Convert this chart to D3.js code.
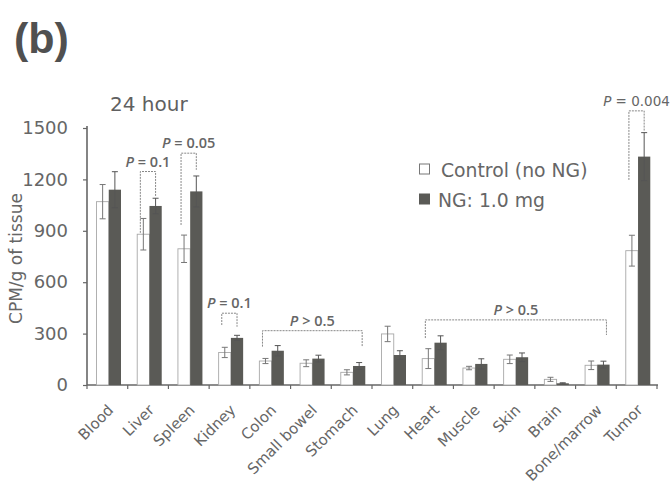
<!DOCTYPE html>
<html>
<head>
<meta charset="utf-8">
<script src="https://cdn.jsdelivr.net/npm/d3@7"></script>
<style>
  body { margin: 0; background: #fff; }
  svg text { font-family: "DejaVu Sans", Verdana, sans-serif; }
</style>
</head>
<body>
<div id="chart"></div>
<script>
// tissue biodistribution, 24 hour

const width = 672, height = 487;

const categories = ["Blood", "Liver", "Spleen", "Kidney", "Colon", "Small bowel", "Stomach",
  "Lung", "Heart", "Muscle", "Skin", "Brain", "Bone/marrow", "Tumor"];
const controlValues = [1070, 880, 795, 190, 140, 127, 74, 298, 154, 99, 150, 33, 115, 784];
const controlErrors = [100, 92, 80, 30, 15, 20, 15, 45, 58, 10, 25, 12, 25, 90];
const ngValues = [1140, 1045, 1130, 275, 200, 154, 111, 175, 247, 123, 162, 10, 119, 1333];
const ngErrors = [105, 45, 90, 15, 30, 20, 20, 25, 40, 30, 25, 3, 20, 140];
const yTicks = [0, 300, 600, 900, 1200, 1500];
const seriesNames = ["Control (no NG)", "NG: 1.0 mg"];

// significance brackets (levels in CPM/g)
const brackets = [
  { from: "Liver", to: "Liver", text: " = 0.1", top: 1246, leftEnd: 888, rightEnd: 1098 },
  { from: "Spleen", to: "Spleen", text: " = 0.05", top: 1353, leftEnd: 934, rightEnd: 1256 },
  { from: "Kidney", to: "Kidney", text: " = 0.1", top: 419, leftEnd: 350, rightEnd: 340 },
  { from: "Colon", to: "Stomach", text: " > 0.5", top: 317, leftEnd: 224, rightEnd: 224 },
  { from: "Heart", to: "Bone/marrow", text: " > 0.5", top: 380, leftEnd: 274, rightEnd: 292 },
  { from: "Tumor", to: "Tumor", text: " = 0.004", top: 1600, leftEnd: 1197, rightEnd: 1479, plain: true }
];

const data = categories.map((c, i) => ({
  cat: c,
  control: controlValues[i], controlErr: controlErrors[i],
  ng: ngValues[i], ngErr: ngErrors[i]
}));

const svg = d3.select("#chart").append("svg")
  .attr("width", width)
  .attr("height", height);

const x = d3.scaleBand().domain(categories).range([87, 657]);
const x1 = d3.scaleBand().domain(["control", "ng"]).range([9.5, 34]);
const y = d3.scaleLinear().domain([0, 1500]).range([385, 128]);

const textColor = "#666";
const darkFill = "#5a5a56";

// panel label + time
svg.append("text")
  .attr("x", 14).attr("y", 53)
  .style("font-family", "'Liberation Sans', Arial, sans-serif")
  .attr("font-size", 43).attr("font-weight", "bold")
  .attr("fill", "#505050")
  .text("(b)");

svg.append("text")
  .attr("x", 110).attr("y", 111)
  .attr("font-size", 20)
  .attr("fill", "#606060")
  .text("24 hour");

// y axis
const yAxis = svg.append("g")
  .attr("transform", "translate(87,0)")
  .call(d3.axisLeft(y).tickValues(yTicks).tickFormat(d3.format("d"))
    .tickSize(4).tickSizeOuter(0).tickPadding(15));
yAxis.select(".domain").attr("stroke", "#666").attr("stroke-width", 1.6)
  .attr("d", `M0,${y(1500) - 2}V${y(0)}`);
yAxis.selectAll(".tick line").attr("stroke", "#666").attr("stroke-width", 1.2);
yAxis.selectAll(".tick text")
  .attr("font-size", 18)
  .style("font-family", "'DejaVu Sans', sans-serif")
  .attr("fill", textColor);

svg.append("text")
  .attr("transform", `translate(22,${(y(0) + y(1500)) / 2 + 2}) rotate(-90)`)
  .attr("text-anchor", "middle")
  .attr("font-size", 17)
  .attr("fill", textColor)
  .text("CPM/g of tissue");

// x axis
svg.append("line")
  .attr("x1", x.range()[0]).attr("x2", x.range()[1] + 1)
  .attr("y1", y(0)).attr("y2", y(0))
  .attr("stroke", "#666").attr("stroke-width", 1.6);

const boundaries = categories.map(c => x(c)).concat([x.range()[1]]);
svg.selectAll(".xtick")
  .data(boundaries)
  .enter().append("line")
  .attr("class", "xtick")
  .attr("x1", d => d).attr("x2", d => d)
  .attr("y1", y(0)).attr("y2", y(0) + 4)
  .attr("stroke", "#666").attr("stroke-width", 1.2);

svg.selectAll(".xlabel")
  .data(categories)
  .enter().append("text")
  .attr("class", "xlabel")
  .attr("transform", d => `translate(${x(d) + x.bandwidth() / 2 + 7},${y(0) + 26}) rotate(-45)`)
  .attr("text-anchor", "end")
  .attr("font-size", 15)
  .attr("fill", textColor)
  .text(d => d);

// bars
const groups = svg.selectAll(".grp")
  .data(data)
  .enter().append("g")
  .attr("class", "grp")
  .attr("transform", d => `translate(${x(d.cat)},0)`);

groups.append("rect")
  .attr("x", x1("control"))
  .attr("y", d => y(d.control))
  .attr("width", x1.bandwidth())
  .attr("height", d => y(0) - y(d.control))
  .attr("fill", "#fff")
  .attr("stroke", "#a8a8a8")
  .attr("stroke-width", 0.9);

groups.append("rect")
  .attr("x", x1("ng"))
  .attr("y", d => y(d.ng))
  .attr("width", x1.bandwidth())
  .attr("height", d => y(0) - y(d.ng))
  .attr("fill", darkFill);

// error bars
function errorBar(key, errKey, color) {
  const cx = x1(key) + x1.bandwidth() / 2;
  const eb = groups.append("g").attr("stroke", color).attr("stroke-width", 1);
  eb.append("line")
    .attr("x1", cx).attr("x2", cx)
    .attr("y1", d => y(d[key] + d[errKey]))
    .attr("y2", d => y(Math.max(0, d[key] - d[errKey])));
  eb.append("line")
    .attr("x1", cx - 3).attr("x2", cx + 3)
    .attr("y1", d => y(d[key] + d[errKey]))
    .attr("y2", d => y(d[key] + d[errKey]));
  eb.append("line")
    .attr("x1", cx - 3).attr("x2", cx + 3)
    .attr("y1", d => y(Math.max(0, d[key] - d[errKey])))
    .attr("y2", d => y(Math.max(0, d[key] - d[errKey])));
}
errorBar("control", "controlErr", "#777");
errorBar("ng", "ngErr", "#555");

// significance brackets
brackets.forEach(b => {
  const lx = x(b.from) + x1("control") + x1.bandwidth() / 2 - 3;
  const rx = x(b.to) + x1("ng") + x1.bandwidth() / 2 + (b.from === b.to ? 0 : 3);
  const yt = y(b.top);
  svg.append("path")
    .attr("d", `M${lx},${y(b.leftEnd)}V${yt}H${rx}V${y(b.rightEnd)}`)
    .attr("fill", "none")
    .attr("stroke", "#888")
    .attr("stroke-width", 1)
    .attr("stroke-dasharray", "2,1");
  const t = svg.append("text")
    .attr("x", (lx + rx) / 2)
    .attr("y", yt - 5)
    .attr("text-anchor", "middle")
    .attr("fill", "#666")
    .attr("font-size", b.plain ? 13.5 : 14.5)
    .style("font-family", b.plain ? "'DejaVu Sans', sans-serif" : "'Open Sans', sans-serif")
    .attr("font-weight", b.plain ? "normal" : 600);
  t.append("tspan").attr("font-style", "italic").text("P");
  t.append("tspan").text(b.text);
});

// legend
const legend = svg.append("g").attr("transform", "translate(419,0)");
const legendY = [177, 207];
seriesNames.forEach((name, i) => {
  legend.append("rect")
    .attr("x", 0.5).attr("y", legendY[i] - 13)
    .attr("width", 10).attr("height", 10)
    .attr("fill", i === 0 ? "#fff" : darkFill)
    .attr("stroke", i === 0 ? "#777" : darkFill)
    .attr("stroke-width", 1);
  legend.append("text")
    .attr("x", i === 0 ? 22 : 19).attr("y", legendY[i])
    .attr("font-size", 18.8)
    .attr("fill", textColor)
    .text(name);
});
</script>
</body>
</html>
